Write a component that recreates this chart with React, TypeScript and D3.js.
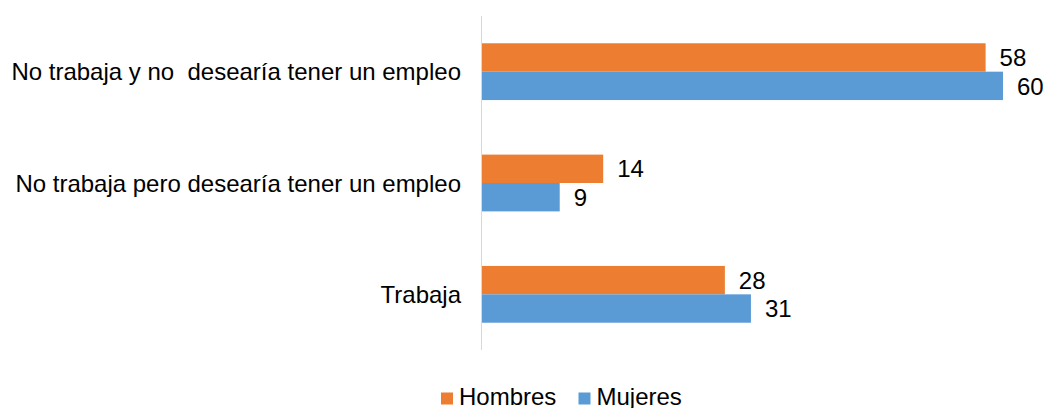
import React from "react";
import * as d3 from "d3";

const categories = [
  "No trabaja y no  desearía tener un empleo",
  "No trabaja pero desearía tener un empleo",
  "Trabaja",
];
const seriesNames = ["Hombres", "Mujeres"];
const hombres = [58, 14, 28];
const mujeres = [60, 9, 31];
const colors = ["#ED7D31", "#5B9BD5"];

const W = 1044;
const H = 408;
const FONT = "'Liberation Sans', Arial, sans-serif";
const FS = 24;

export default function App() {
  const x = d3.scaleLinear().domain([0, 60]).range([481.5, 1003]);
  const y = d3
    .scaleBand<string>()
    .domain(categories)
    .range([16, 350])
    .paddingInner(0.49)
    .paddingOuter(0.245);
  const sub = d3.scaleBand<string>().domain(seriesNames).range([0, y.bandwidth()]);
  const values = [hombres, mujeres];

  const legendItems = [
    { name: "Hombres", sx: 441, tx: 459 },
    { name: "Mujeres", sx: 578.5, tx: 596.5 },
  ];

  return (
    <svg
      width={W}
      height={H}
      style={{ position: "absolute", left: 0, top: 0, background: "#fff" }}
      fontFamily={FONT}
    >
      {categories.map((c, i) => (
        <g key={c}>
          {seriesNames.map((s, si) => {
            const v = values[si][i];
            const yy = (y(c) as number) + (sub(s) as number);
            return (
              <g key={s}>
                <rect
                  x={x(0)}
                  y={yy}
                  width={x(v) - x(0)}
                  height={sub.bandwidth()}
                  fill={colors[si]}
                />
                <text
                  x={x(v) + 14}
                  y={yy + sub.bandwidth() / 2}
                  dy="0.36em"
                  fontSize={FS}
                  fill="#000"
                >
                  {v}
                </text>
              </g>
            );
          })}
          <text
            x={461}
            y={(y(c) as number) + y.bandwidth() / 2}
            dy="0.36em"
            textAnchor="end"
            fontSize={FS}
            fill="#000"
            style={{ whiteSpace: "pre" }}
            xmlSpace="preserve"
          >
            {c}
          </text>
        </g>
      ))}
      <line x1={481.5} x2={481.5} y1={16} y2={350} stroke="#d9d9d9" strokeWidth={1} />
      {legendItems.map((l, i) => (
        <g key={l.name}>
          <rect x={l.sx} y={392.5} width={12} height={12} fill={colors[i]} />
          <text x={l.tx} y={404.5} fontSize={FS} fill="#000">
            {l.name}
          </text>
        </g>
      ))}
    </svg>
  );
}
